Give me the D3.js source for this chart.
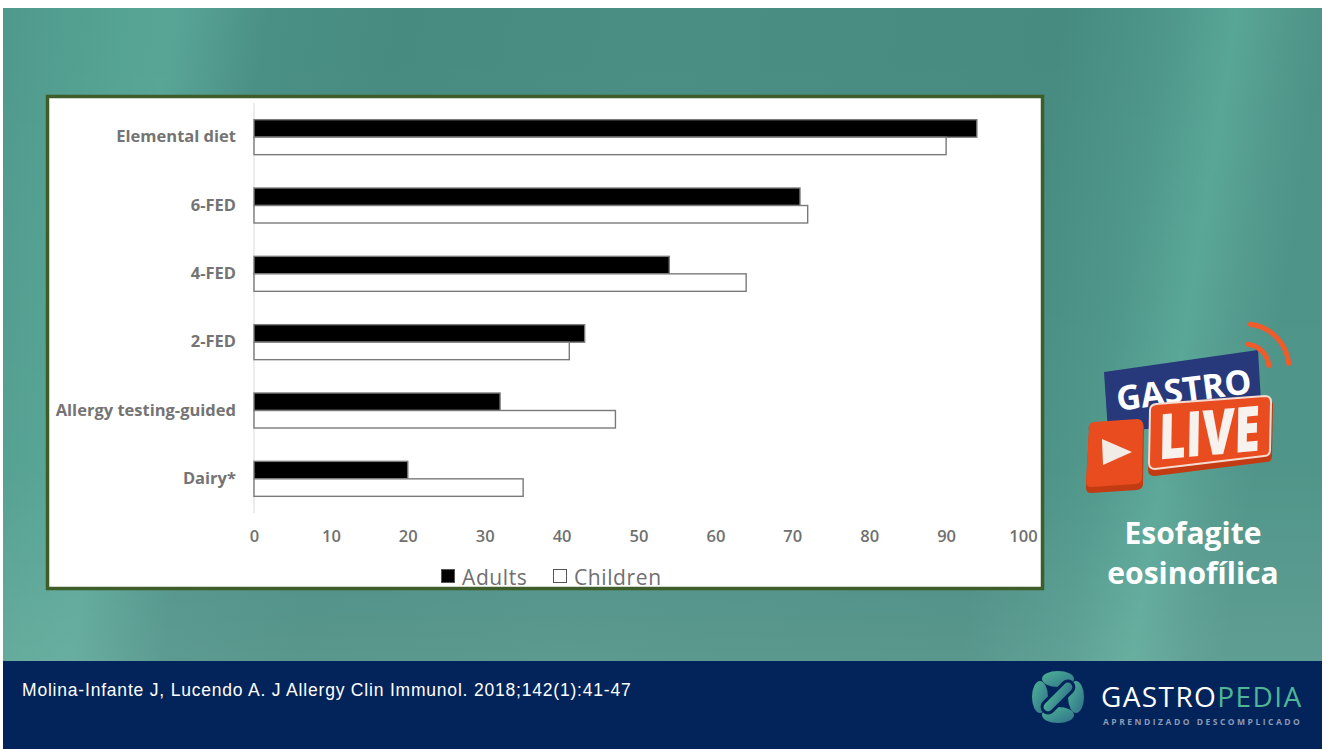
<!DOCTYPE html>
<html>
<head>
<meta charset="utf-8">
<script src="https://cdn.jsdelivr.net/npm/d3@7"></script>
<style>
  html, body { margin: 0; padding: 0; background: #ffffff; }
  svg { display: block; }
</style>
</head>
<body>
<svg id="slide" width="1327" height="749"></svg>
<script>
// Remission rates (%) of elimination diets in eosinophilic esophagitis
const categories = ["Elemental diet", "6-FED", "4-FED", "2-FED", "Allergy testing-guided", "Dairy*"];
const adults   = [94, 71, 54, 43, 32, 20];
const children = [90, 72, 64, 41, 47, 35];
const seriesNames = ["Adults", "Children"];
const xTicks = [0, 10, 20, 30, 40, 50, 60, 70, 80, 90, 100];
const citation = "Molina-Infante J, Lucendo A. J Allergy Clin Immunol. 2018;142(1):41-47";
const sideTitle = ["Esofagite", "eosinofílica"];

const svg = d3.select("#slide");
const defs = svg.append("defs");

// ---------- slide background ----------
const bg = defs.append("linearGradient").attr("id", "bgGrad").attr("x1", 0).attr("x2", 1).attr("y1", 0).attr("y2", 0.08);
[[0, "#4f998c"], [0.09, "#55a393"], [0.13, "#58a596"], [0.2, "#4b9085"], [0.3, "#478b80"],
 [0.5, "#4a8e83"], [0.8, "#478b80"], [0.88, "#4e978a"], [0.93, "#58a696"], [0.97, "#52998c"], [1, "#4d9387"]]
  .forEach(([o, c]) => bg.append("stop").attr("offset", o).attr("stop-color", c));
const glow = defs.append("linearGradient").attr("id", "glow").attr("x1", 0).attr("x2", 0).attr("y1", 0).attr("y2", 1);
glow.append("stop").attr("offset", 0).attr("stop-color", "#ffffff").attr("stop-opacity", 0);
glow.append("stop").attr("offset", 0.7).attr("stop-color", "#ffffff").attr("stop-opacity", 0.02);
glow.append("stop").attr("offset", 1).attr("stop-color", "#ffffff").attr("stop-opacity", 0.1);

svg.append("rect").attr("x", 3).attr("y", 8).attr("width", 1319).attr("height", 653).attr("fill", "url(#bgGrad)");
svg.append("rect").attr("x", 3).attr("y", 8).attr("width", 1319).attr("height", 653).attr("fill", "url(#glow)");

// ---------- footer ----------
svg.append("rect").attr("x", 3).attr("y", 661).attr("width", 1319).attr("height", 88).attr("fill", "#03245a");
svg.append("text").attr("x", 22).attr("y", 696)
  .attr("font-family", "'Liberation Sans', Arial, sans-serif").attr("font-size", 17.5)
  .attr("letter-spacing", 0.8)
  .attr("fill", "#ffffff").text(citation);

// ---------- chart frame ----------
svg.append("rect").attr("x", 47.5).attr("y", 96.5).attr("width", 995).attr("height", 492)
  .attr("fill", "#ffffff").attr("stroke", "#3e5d2b").attr("stroke-width", 3.5);

const x = d3.scaleLinear().domain([0, 100]).range([254, 1023]);
const y = d3.scaleBand().domain(categories).range([103, 513]).paddingInner(0.488).paddingOuter(0.244);
const ySub = d3.scaleBand().domain(seriesNames).range([0, y.bandwidth()]);

const rows = categories.map((c, i) => ({ cat: c, values: [
  { key: "Adults", v: adults[i] }, { key: "Children", v: children[i] }] }));

const plot = svg.append("g");

// vertical category axis line
plot.append("line").attr("x1", x(0)).attr("x2", x(0)).attr("y1", 103).attr("y2", 513)
  .attr("stroke", "#d9d9d9").attr("stroke-width", 1);

const fills = { Adults: "#000000", Children: "#ffffff" };
plot.selectAll("g.row").data(rows).join("g").attr("class", "row")
  .attr("transform", d => `translate(0,${y(d.cat)})`)
  .selectAll("rect").data(d => d.values).join("rect")
  .attr("x", x(0))
  .attr("y", d => ySub(d.key))
  .attr("width", d => x(d.v) - x(0))
  .attr("height", ySub.bandwidth())
  .attr("fill", d => fills[d.key])
  .attr("stroke", "#7a7a7a").attr("stroke-width", 1.4);

// category labels
const yAxis = d3.axisLeft(y).tickSize(0).tickPadding(18);
plot.append("g").attr("transform", `translate(${x(0)},0)`).call(yAxis)
  .call(g => g.select(".domain").remove())
  .selectAll("text")
  .attr("font-family", "'Open Sans', sans-serif").attr("font-weight", 700)
  .attr("font-size", 16.5).attr("fill", "#747474");

// value axis
const xAxis = d3.axisBottom(x).tickValues(xTicks).tickSize(0).tickPadding(17);
plot.append("g").attr("transform", "translate(0,513)").call(xAxis)
  .call(g => g.select(".domain").remove())
  .selectAll("text")
  .attr("font-family", "'Open Sans', sans-serif").attr("font-weight", 600)
  .attr("font-size", 16.5).attr("fill", "#707070");

// legend
const legend = svg.append("g").attr("transform", "translate(441,569)");
const legX = { Adults: 0, Children: 112 };
seriesNames.forEach(k => {
  const g = legend.append("g").attr("transform", `translate(${legX[k]},0)`);
  g.append("rect").attr("x", 0.5).attr("y", 0.5).attr("width", 13).attr("height", 13)
    .attr("fill", fills[k]).attr("stroke", "#555555").attr("stroke-width", 1);
  g.append("text").attr("x", 21).attr("y", 15.5)
    .attr("font-family", "'Open Sans', sans-serif").attr("font-size", 21)
    .attr("letter-spacing", 0.6)
    .attr("fill", "#6f6f6f").text(k);
});

// ---------- GASTRO LIVE badge ----------
const badge = svg.append("g");
badge.append("path").attr("d", "M1104,372 L1258,350 L1262,420 L1108,432 Z").attr("fill", "#27397a");
badge.append("text").attr("x", 1184).attr("y", 402).attr("text-anchor", "middle")
  .attr("transform", "rotate(-7.6,1184,392)")
  .attr("font-family", "'Open Sans', sans-serif").attr("font-weight", 700).attr("font-size", 34)
  .attr("fill", "#ffffff").text("GASTRO");
// play button box
badge.append("path").attr("d", "M1089,431 Q1087,425 1093,424 L1138,421 Q1144,421 1144,427 L1143,484 Q1143,489 1137,490 L1091,493 Q1086,493 1086,488 Z")
  .attr("fill", "#c23b13");
badge.append("path").attr("d", "M1089,428 Q1088,423 1094,422 L1137,419 Q1143,419 1143,425 L1142,478 Q1142,483 1136,484 L1091,487 Q1086,487 1086,481 Z")
  .attr("fill", "#e84c1f");
badge.append("path").attr("d", "M1102,439 L1132,452 L1103,465 Z").attr("fill", "#f1ece6");
// LIVE box
badge.append("path").attr("d", "M1150,413 Q1150,408 1156,407 L1266,399 Q1273,399 1273,405 L1272,456 Q1272,462 1266,462 L1155,476 Q1148,476 1148,470 Z")
  .attr("fill", "#c23b13");
badge.append("path").attr("d", "M1150,410 Q1150,405 1156,404 L1265,396 Q1271,396 1271,402 L1270,450 Q1270,456 1264,456 L1155,469 Q1149,469 1149,463 Z")
  .attr("fill", "#e84c1f").attr("stroke", "#f6dcd0").attr("stroke-width", 2);
badge.append("g").attr("transform", "translate(1209,455) rotate(-5) skewX(-6) scale(0.82,1.1)")
  .append("text").attr("x", 0).attr("y", 0).attr("text-anchor", "middle")
  .attr("font-family", "'Open Sans', sans-serif").attr("font-weight", 800).attr("font-size", 57)
  .attr("fill", "#f7f2ee").text("LIVE");
// signal waves above the corner of the badge
[24, 44].forEach(r => {
  const p = d3.path();
  p.arc(1245, 368, r, -1.45, -0.1);
  badge.append("path").attr("d", p.toString())
    .attr("fill", "none").attr("stroke", "#ef5b2b").attr("stroke-width", 5)
    .attr("stroke-linecap", "round");
});

svg.selectAll("text.side").data(sideTitle).join("text").attr("class", "side")
  .attr("x", 1193).attr("y", (d, i) => 544 + i * 40).attr("text-anchor", "middle")
  .attr("font-family", "'Open Sans', sans-serif").attr("font-weight", 700).attr("font-size", 30)
  .attr("fill", "#ffffff").text(d => d);

// ---------- GASTROPEDIA logo ----------
const logoGrad = defs.append("linearGradient").attr("id", "logoGrad").attr("x1", 0).attr("x2", 1).attr("y1", 0).attr("y2", 1);
logoGrad.append("stop").attr("offset", 0).attr("stop-color", "#4fb596");
logoGrad.append("stop").attr("offset", 1).attr("stop-color", "#2f6f8a");
const logo = svg.append("g").attr("transform", "translate(1058,697)");
[[-18, 0, 8, 16], [18, 0, 8, 16], [0, -18, 16, 8], [0, 18, 16, 8]].forEach(([cx, cy, rx, ry]) => {
  logo.append("ellipse").attr("cx", cx).attr("cy", cy).attr("rx", rx).attr("ry", ry).attr("fill", "url(#logoGrad)");
});
logo.append("rect").attr("x", -20).attr("y", -6).attr("width", 40).attr("height", 12).attr("rx", 6)
  .attr("transform", "rotate(-45)").attr("fill", "url(#logoGrad)").attr("stroke", "#03245a").attr("stroke-width", 3);

const brand = svg.append("text").attr("x", 1101).attr("y", 707)
  .attr("font-family", "'Open Sans', sans-serif").attr("font-weight", 400).attr("font-size", 28)
  .attr("letter-spacing", 1.4);
brand.append("tspan").attr("fill", "#ffffff").text("GASTRO");
brand.append("tspan").attr("fill", "#4fb596").text("PEDIA");
svg.append("text").attr("x", 1103).attr("y", 725)
  .attr("font-family", "'Open Sans', sans-serif").attr("font-weight", 700).attr("font-size", 8.5)
  .attr("letter-spacing", 2.5).attr("fill", "#8b9ab5").text("APRENDIZADO DESCOMPLICADO");
</script>
</body>
</html>
